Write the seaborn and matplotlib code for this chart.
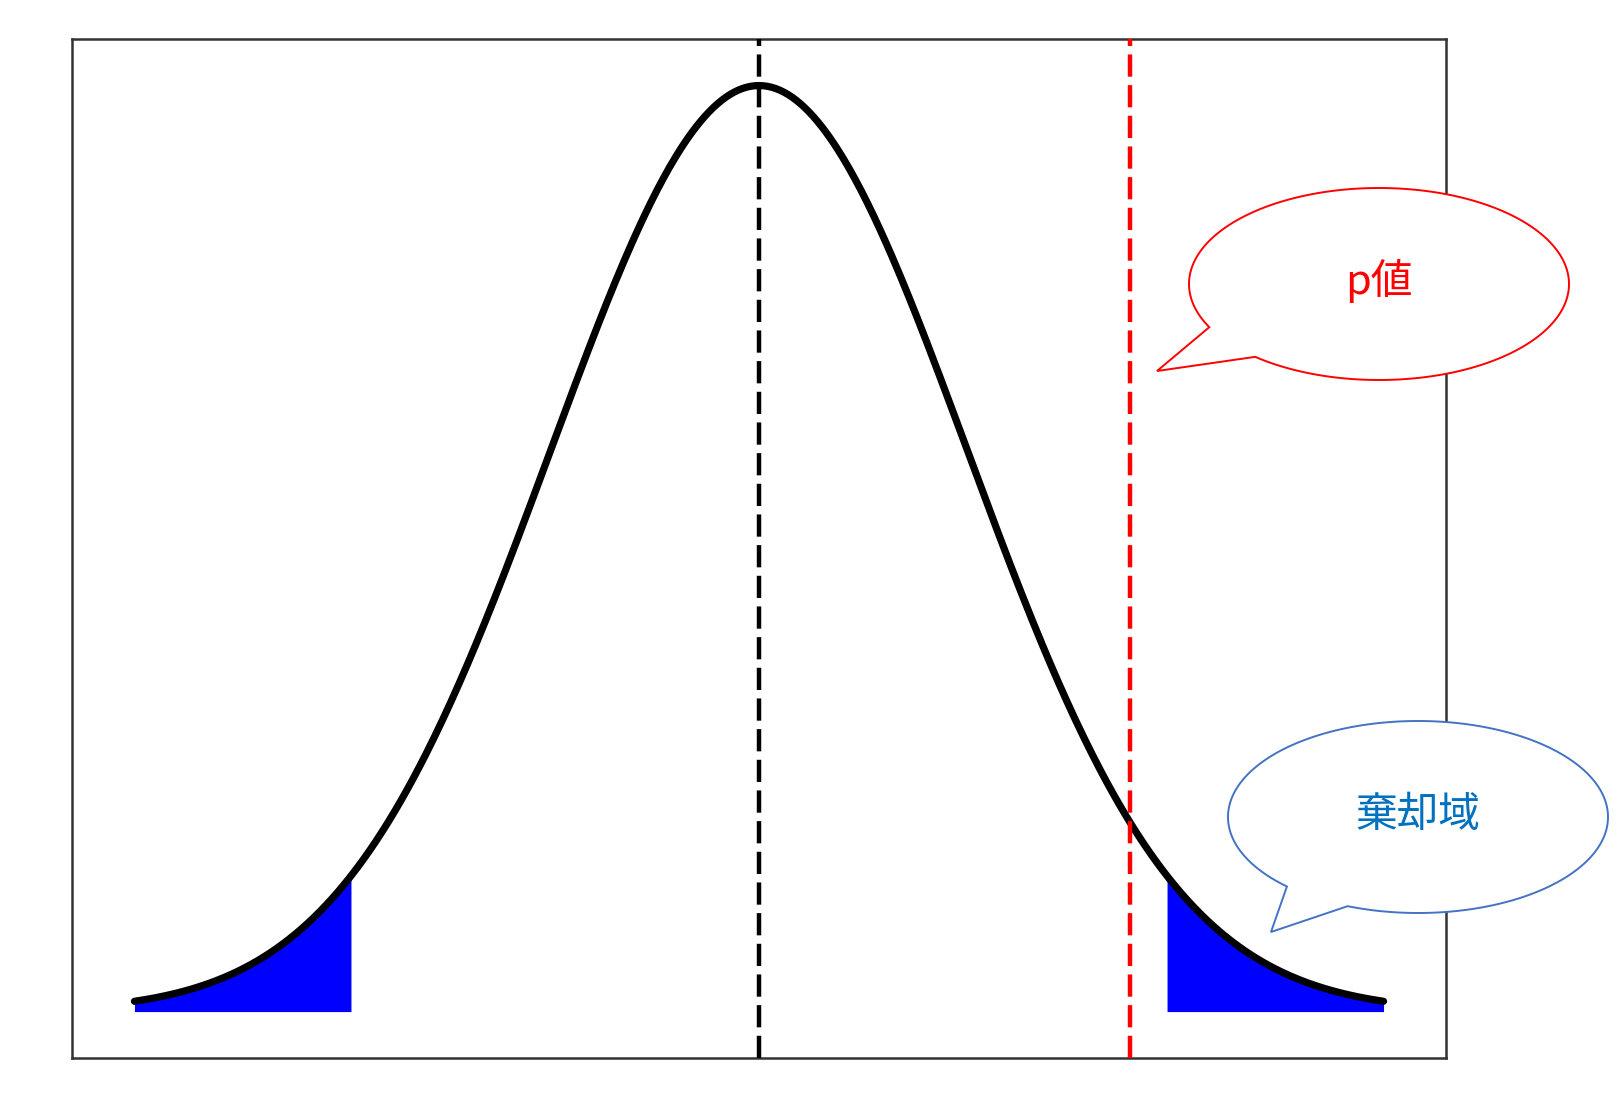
import numpy as np
import pandas as pd
import matplotlib
matplotlib.use("Agg")
import matplotlib.pyplot as plt
import seaborn as sns
from matplotlib.path import Path
from matplotlib.patches import PathPatch

# ---- data / parameters ----
dist_mean = 0.0
dist_sd = 1.0
x_range = [-3.0, 3.0]
critical_z = [-1.96, 1.96]      # rejection region boundaries
observed_z = 1.78               # p-value position (red line)
bubble_labels = ["p値", "棄却域"]
bubble_text_colors = ["#FF0000", "#0070C0"]
bubble_edge_colors = ["#FF0000", "#4472C4"]

sns.set_style("white")
plt.rcParams['font.family'] = ['Noto Sans CJK JP', 'DejaVu Sans']

x = np.linspace(x_range[0], x_range[1], 601)
x = np.union1d(x, critical_z)
pdf = np.exp(-0.5 * ((x - dist_mean) / dist_sd) ** 2) / (dist_sd * np.sqrt(2 * np.pi))
df = pd.DataFrame({"x": x, "density": pdf})

fig = plt.figure(figsize=(16.2, 11.14), dpi=100)
ax = fig.add_axes([72 / 1620, 1 - 1058 / 1114, (1446 - 72) / 1620, (1058 - 39) / 1114])

left = df[df.x <= critical_z[0]]
right = df[df.x >= critical_z[1]]
ax.fill_between(left.x, 0, left.density, color="#0000FF", linewidth=0, zorder=2)
ax.fill_between(right.x, 0, right.density, color="#0000FF", linewidth=0, zorder=2)

sns.lineplot(data=df, x="x", y="density", ax=ax, color="black", linewidth=5.2,
             zorder=3, sort=True)

ax.axvline(dist_mean, color="black", linewidth=3.2, linestyle=(0, (5.0, 1.9)), zorder=4)
ax.axvline(observed_z, color="#FF0000", linewidth=3.2, linestyle=(0, (5.0, 1.9)), zorder=4)

ax.set_xlim(-3.3, 3.3)
ax.set_ylim(-0.02, 0.419)
ax.set_xticks([])
ax.set_yticks([])
ax.set_xlabel("")
ax.set_ylabel("")
for s in ax.spines.values():
    s.set_color("#333333")
    s.set_linewidth(1.8)
    s.set_visible(True)

# ---- speech bubbles in pixel coordinates on an overlay ----
ov = fig.add_axes([0, 0, 1, 1], zorder=10)
ov.set_xlim(0, 1620)
ov.set_ylim(1114, 0)
ov.axis("off")
ov.patch.set_alpha(0)


def bubble(cx, cy, a, b, join1, join2, tip, edge):
    t1 = np.arctan2((join1[1] - cy) / b, (join1[0] - cx) / a)
    t2 = np.arctan2((join2[1] - cy) / b, (join2[0] - cx) / a)
    if t2 < t1:
        t2 += 2 * np.pi
    if (t2 - t1) < np.pi:
        ts = np.linspace(t2, t1 + 2 * np.pi, 300)
    else:
        ts = np.linspace(t1, t2, 300)
    pts = [(cx + a * np.cos(t), cy + b * np.sin(t)) for t in ts]
    pts.append(tip)
    pts.append(pts[0])
    codes = [Path.MOVETO] + [Path.LINETO] * (len(pts) - 2) + [Path.CLOSEPOLY]
    ov.add_patch(PathPatch(Path(pts, codes), facecolor="white", edgecolor=edge,
                           linewidth=1.4, joinstyle="miter"))


bubble(1379, 284, 190, 96, (1210, 327), (1255, 357), (1157, 371), bubble_edge_colors[0])
bubble(1418, 817, 190, 96, (1286, 887), (1347, 907), (1271, 932), bubble_edge_colors[1])

ov.text(1379, 281, bubble_labels[0], color=bubble_text_colors[0], fontsize=30,
        ha="center", va="center")
ov.text(1418, 815, bubble_labels[1], color=bubble_text_colors[1], fontsize=30,
        ha="center", va="center")

fig.savefig("out.png", dpi=100, facecolor="white")
